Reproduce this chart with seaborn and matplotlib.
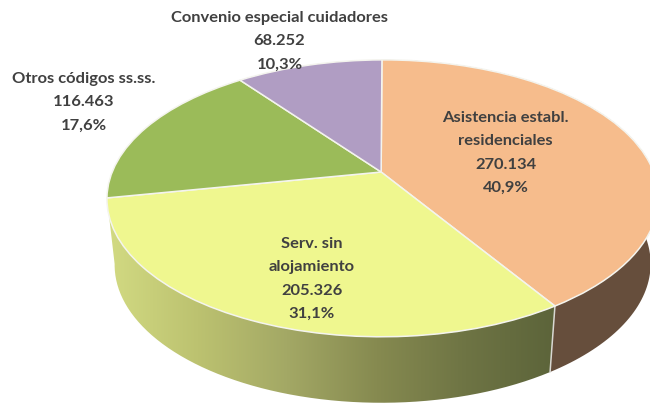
import numpy as np
import matplotlib
matplotlib.use("Agg")
import matplotlib.pyplot as plt
import matplotlib.transforms as mtransforms
from matplotlib.patches import PathPatch, Polygon
from matplotlib.path import Path
import seaborn as sns

# data
categories = ["Asistencia establ.\nresidenciales", "Serv. sin\nalojamiento",
              "Otros códigos ss.ss.", "Convenio especial cuidadores"]
values = [270134, 205326, 116463, 68252]
colors = ["#F6BC8C", "#EFF78F", "#9BBB59", "#B09DC3"]

sns.set_theme(style="white")
plt.rcParams["font.family"] = ["Lato", "DejaVu Sans"]

fig = plt.figure(figsize=(6.5, 4.05), dpi=100)
ax = fig.add_axes([0, 0, 1, 1])

wedges, _ = ax.pie(values, colors=colors, startangle=90, counterclock=False,
                   wedgeprops=dict(edgecolor="#F4F4EE", linewidth=1.1, zorder=5))

# ---------------------------------------------------------------------
# perspective: fit a homography from the unit pie to the tilted pie


def unit(deg):
    return np.cos(np.radians(deg)), np.sin(np.radians(deg))


src = [(0, 0), unit(wedges[0].theta2), unit(wedges[0].theta1),
       unit(wedges[1].theta1), unit(wedges[2].theta1)]
dst = [(381, 172), (382, 60), (555, 306), (107, 198), (240, 80)]
rows = []
for (x, y), (u, v) in zip(src, dst):
    rows.append([x, y, 1, 0, 0, 0, -u * x, -u * y, -u])
    rows.append([0, 0, 0, x, y, 1, -v * x, -v * y, -v])
H = np.linalg.svd(np.array(rows))[2][-1].reshape(3, 3)


class Tilt(mtransforms.Transform):
    input_dims = 2
    output_dims = 2

    def transform_non_affine(self, pts):
        pts = np.asarray(pts)
        q = np.column_stack([pts, np.ones(len(pts))]) @ H.T
        return q[:, :2] / q[:, 2:]


tilt = Tilt()
for w in wedges:
    w.set_transform(tilt + ax.transData)


def wall(w):
    t = np.radians(np.linspace(w.theta1, w.theta2, 120))
    top = tilt.transform_non_affine(np.column_stack([np.cos(t), np.sin(t)]))
    low = top.copy()
    low[:, 0] = 381 + (top[:, 0] - 381) * 0.972
    low[:, 1] = top[:, 1] + 66
    return np.vstack([top, low[::-1]])


# ---------------------------------------------------------------------
# side walls
ax.add_patch(Polygon(wall(wedges[0]), closed=True, facecolor="#664E3C",
                     edgecolor="none", zorder=2))

cmap = sns.blend_palette(["#D2DA82", "#BCC270", "#A3A865", "#868A50", "#6E7444", "#5C643A"],
                         as_cmap=True)
grad = ax.imshow(np.linspace(0, 1, 256)[None, :], extent=[108, 556, 405, 0],
                 cmap=cmap, aspect="auto", zorder=3)
grad.set_clip_path(PathPatch(Path(wall(wedges[1])), transform=ax.transData))

edge = wall(wedges[0])
ax.plot([edge[0, 0], edge[-1, 0]], [edge[0, 1], edge[-1, 1]],
        color="#D8D8D2", lw=1.1, zorder=4)

# ---------------------------------------------------------------------
# labels, one text per line so the line steps stay even
total = sum(values)
label_pos = [(505.5, 117), (311.5, 243), (83.5, 78), (279.5, 17)]
for name, val, (x, y) in zip(categories, values, label_pos):
    lines = name.split("\n") + [f"{val:,}".replace(",", "."),
                                f"{val / total * 100:.1f}".replace(".", ",") + "%"]
    for i, line in enumerate(lines):
        ax.text(x, y + i * 23.4 + 5, line, ha="center", va="baseline", fontsize=11.85,
                fontweight="bold", color="#404040", zorder=6)

ax.set_xlim(0, 650)
ax.set_ylim(405, 0)
ax.set_aspect("auto")
ax.axis("off")

fig.savefig("out.png", dpi=100)
